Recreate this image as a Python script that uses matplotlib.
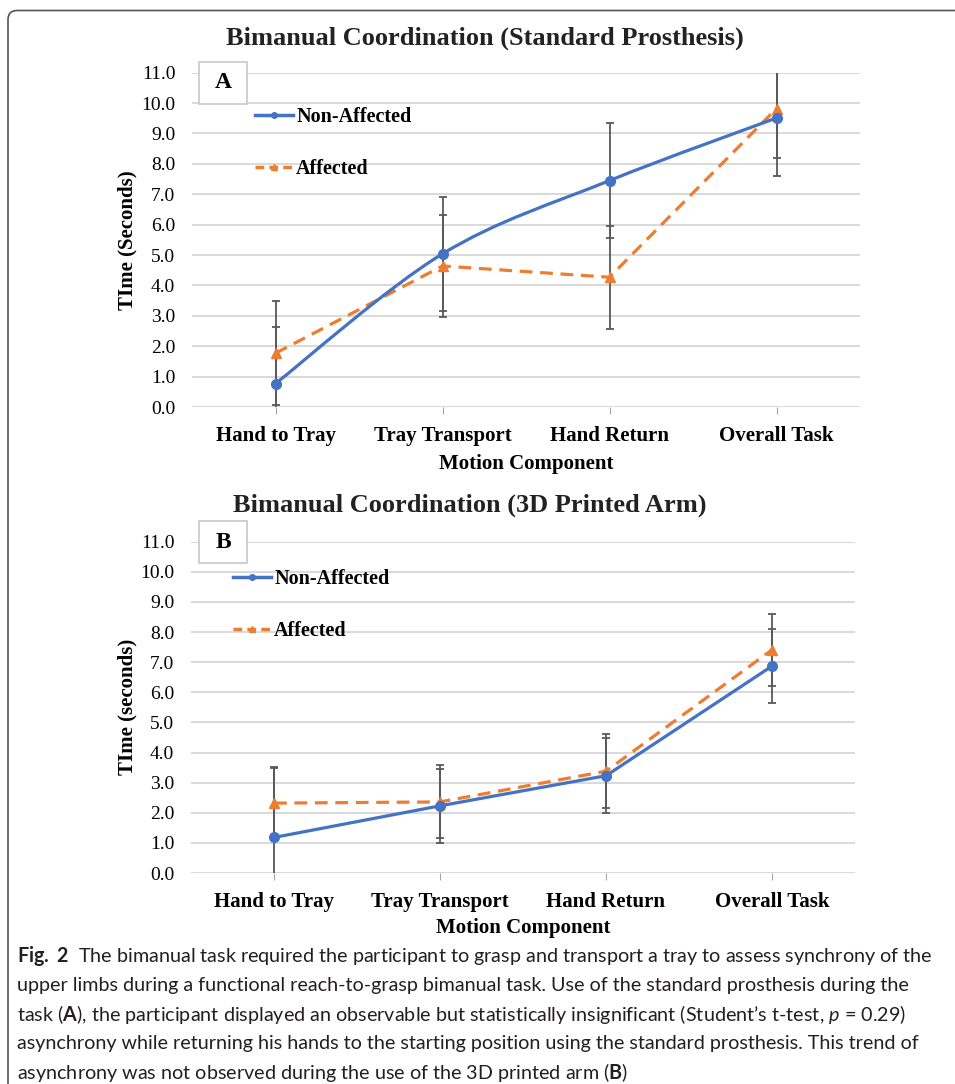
import matplotlib
matplotlib.use("Agg")
import matplotlib.pyplot as plt
from matplotlib.path import Path
from matplotlib.patches import PathPatch, Rectangle, FancyBboxPatch
from matplotlib.lines import Line2D
import numpy as np

# data
categories = ["Hand to Tray", "Tray Transport", "Hand Return", "Overall Task"]

# panel A: standard prosthesis
a_non_affected = [0.77, 5.04, 7.45, 9.51]
a_non_affected_err = [1.85, 1.87, 1.88, 1.91]
a_affected = [1.77, 4.64, 4.27, 9.82]
a_affected_err = [1.71, 1.68, 1.69, 1.64]

# panel B: 3D printed arm
b_non_affected = [1.18, 2.23, 3.23, 6.87]
b_non_affected_err = [2.33, 1.23, 1.24, 1.24]
b_affected = [2.32, 2.36, 3.38, 7.41]
b_affected_err = [1.18, 1.21, 1.23, 1.20]

yticks = np.arange(0, 11.5, 1.0)

caption_lines = [
    r"$\mathbf{Fig.\ 2}$  The bimanual task required the participant to grasp and transport a tray to assess synchrony of the",
    r"upper limbs during a functional reach-to-grasp bimanual task. Use of the standard prosthesis during the",
    r"task ($\mathbf{A}$), the participant displayed an observable but statistically insignificant (Student’s t-test, $\mathit{p}$ = 0.29)",
    r"asynchrony while returning his hands to the starting position using the standard prosthesis. This trend of",
    r"asynchrony was not observed during the use of the 3D printed arm ($\mathbf{B}$)",
]

BLUE = "#4472C4"
ORANGE = "#ED7D31"
GRID = "#D9D9D9"
ERR = "#595959"

cap_font = "Lato"
plt.rcParams["font.family"] = "Liberation Serif"
plt.rcParams["mathtext.fontset"] = "custom"
plt.rcParams["mathtext.rm"] = cap_font
plt.rcParams["mathtext.bf"] = cap_font + ":bold"
plt.rcParams["mathtext.it"] = cap_font + ":italic"

W, H = 955, 1084
fig = plt.figure(figsize=(W / 100, H / 100), dpi=100)


def fx(px):
    return px / W


def fy(py):
    return 1 - py / H


def smooth_path(xs, ys):
    # Excel style smoothed line as cubic bezier segments
    verts = [(xs[0], ys[0])]
    codes = [Path.MOVETO]
    n = len(xs)
    for i in range(n - 1):
        i0, i3 = max(i - 1, 0), min(i + 2, n - 1)
        c1 = (xs[i] + (xs[i + 1] - xs[i0]) / 6, ys[i] + (ys[i + 1] - ys[i0]) / 6)
        c2 = (xs[i + 1] - (xs[i3] - xs[i]) / 6, ys[i + 1] - (ys[i3] - ys[i]) / 6)
        verts += [c1, c2, (xs[i + 1], ys[i + 1])]
        codes += [Path.CURVE4] * 3
    return Path(verts, codes)


def panel(rect, non_aff, non_err, aff, aff_err, smooth, ylabel):
    ax = fig.add_axes(rect)
    x = np.arange(len(categories))
    ax.set_xlim(-0.5, len(categories) - 0.5)
    ax.set_ylim(0, 11)
    ax.set_yticks(yticks)
    ax.set_yticklabels([f"{v:.1f}" for v in yticks])
    ax.set_xticks(x)
    ax.set_xticklabels(categories, fontweight="bold", fontsize=15)
    ax.tick_params(axis="y", length=0, pad=12, labelsize=14)
    ax.tick_params(axis="x", length=5, color="#A6A6A6", pad=9)
    for s in ax.spines.values():
        s.set_visible(False)
    ax.grid(axis="y", color=GRID, lw=1.4)
    ax.set_axisbelow(True)

    ax.errorbar(x, non_aff, yerr=non_err, fmt="none", ecolor=ERR, elinewidth=1.3,
                capsize=3, capthick=1.3, zorder=2)
    ax.errorbar(x, aff, yerr=aff_err, fmt="none", ecolor=ERR, elinewidth=1.3,
                capsize=3, capthick=1.3, zorder=2)

    ax.plot(x, aff, color=ORANGE, lw=2.3, dashes=(4, 2.4), marker="^", ms=7,
            zorder=3)
    if smooth:
        ax.add_patch(PathPatch(smooth_path(x, non_aff), fill=False, edgecolor=BLUE,
                               lw=2.3, zorder=4, capstyle="round"))
        ax.plot(x, non_aff, "o", color=BLUE, ms=7, zorder=4)
    else:
        ax.plot(x, non_aff, color=BLUE, lw=2.3, marker="o", ms=7, zorder=4)

    ax.set_ylabel(ylabel, fontweight="bold", fontsize=15)
    ax.set_xlabel("Motion Component", fontweight="bold", fontsize=15)
    return ax


axA = panel([fx(192), fy(407), fx(860) - fx(192), fy(72.7) - fy(407)],
            a_non_affected, a_non_affected_err, a_affected, a_affected_err,
            True, "TIme (Seconds)")
axB = panel([fx(191), fy(873), fx(855) - fx(191), fy(541.7) - fy(873)],
            b_non_affected, b_non_affected_err, b_affected, b_affected_err,
            False, "TIme (seconds)")

axA.yaxis.set_label_coords((137 - 192) / 668, 0.5)
axB.yaxis.set_label_coords((137 - 191) / 664, 0.5)
axA.xaxis.set_label_coords(0.5, -(454 - 407) / 334.3)
axB.xaxis.set_label_coords(0.5, -(918 - 873) / 331.3)

fig.text(fx(485), fy(38), "Bimanual Coordination (Standard Prosthesis)",
         ha="center", va="center", fontsize=19, fontweight="bold", color="#222222")
fig.text(fx(470), fy(505), "Bimanual Coordination (3D Printed Arm)",
         ha="center", va="center", fontsize=19, fontweight="bold", color="#222222")

# legends
handles = [
    Line2D([], [], color=BLUE, lw=2.5, marker="o", ms=4),
    Line2D([], [], color=ORANGE, lw=2.5, dashes=(2.5, 1.5), marker="^", ms=4.5),
]
for ax, left, top in [(axA, 255, 107), (axB, 233, 569)]:
    ax.legend(handles, ["Non-Affected", "Affected"], loc="upper left",
              bbox_to_anchor=(fx(left), fy(top)), bbox_transform=fig.transFigure,
              frameon=False, borderpad=0, borderaxespad=0, handlelength=1.9,
              handletextpad=0.15, labelspacing=1.6,
              prop={"weight": "bold", "size": 14.5})

# panel letters
for letter, top in [("A", 62), ("B", 521)]:
    fig.patches.append(Rectangle((fx(199), fy(top + 42)), fx(48), 42 / H,
                                 transform=fig.transFigure, facecolor="white",
                                 edgecolor="#C8C8C8", lw=1.2, zorder=5))
    fig.text(fx(223), fy(top + 21), letter, ha="center", va="center",
             fontsize=17, fontweight="bold", zorder=6)

# caption, sized so the first line spans the same width as in the figure
cap_texts = []
for i, line in enumerate(caption_lines):
    cap_texts.append(fig.text(fx(17), fy(956 + i * 29), line, ha="left", va="center",
                              fontsize=14, family=cap_font, color="#231F20"))
renderer = fig.canvas.get_renderer()
w0 = cap_texts[0].get_window_extent(renderer).width
new_size = 14 * (935 - 17) / w0
for t in cap_texts:
    t.set_fontsize(new_size)

# outer frame
fig.patches.append(FancyBboxPatch((0.08, -0.5), 10.0, H / 100 - 0.105 + 0.5,
                                  boxstyle="round,pad=0,rounding_size=0.09",
                                  transform=fig.dpi_scale_trans, facecolor="none",
                                  edgecolor="#555555", lw=1.2))

fig.savefig("out.png", dpi=100)
